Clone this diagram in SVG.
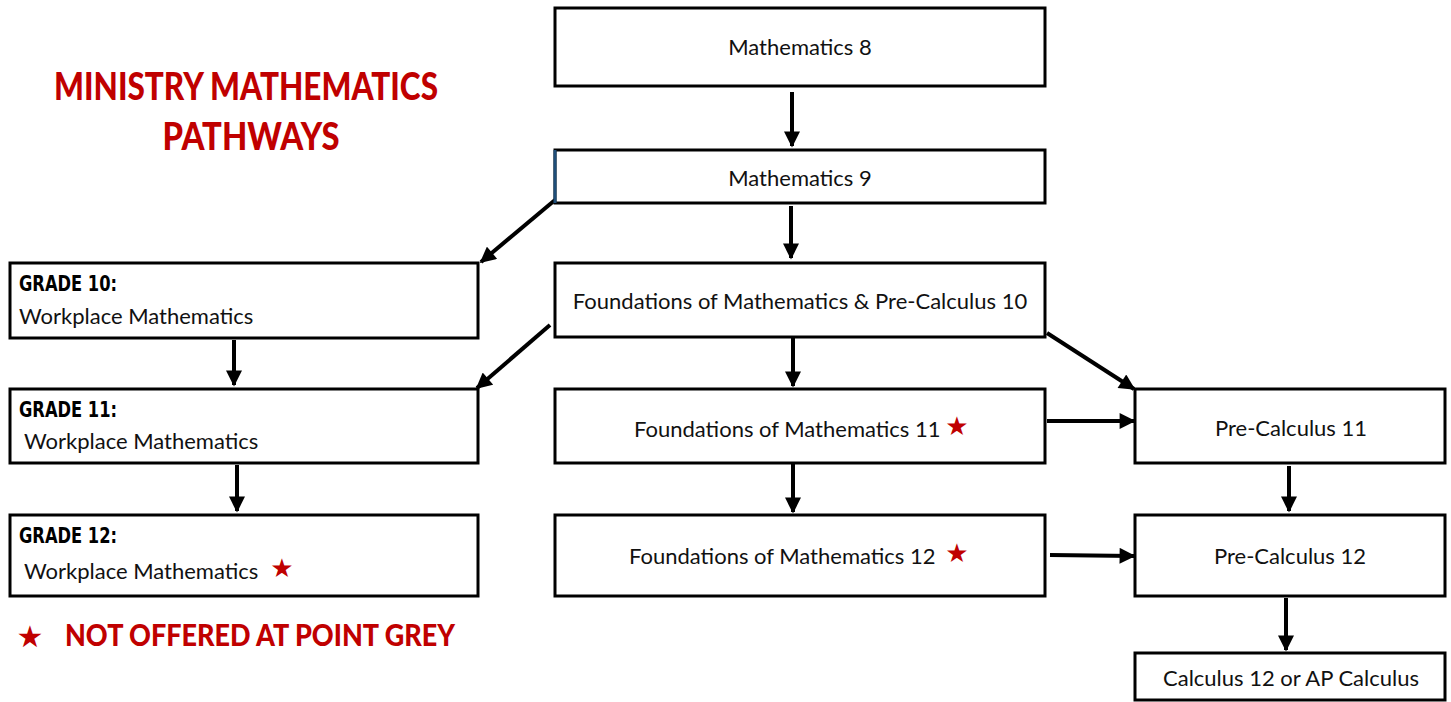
<svg xmlns="http://www.w3.org/2000/svg" width="1451" height="702" viewBox="0 0 1451 702">
<defs>
<style>
.box{fill:#fff;stroke:#000;stroke-width:3}
.t{font-family:Lato,"Open Sans",sans-serif;font-size:22px;fill:#111}
.c{text-anchor:middle}
.g{font-family:"Liberation Sans Narrow","DejaVu Sans Condensed",sans-serif;font-weight:bold;font-size:22px;fill:#000}
.star{font-family:"DejaVu Sans",sans-serif;fill:#c00000}
.red{font-family:Lato,"Open Sans",sans-serif;font-weight:900;fill:#c00000}
.ar{stroke:#000;stroke-width:4;fill:none;marker-end:url(#ah)}
</style>
<marker id="ah" viewBox="0 0 10 10" refX="9" refY="5" markerWidth="4.2" markerHeight="4" orient="auto" markerUnits="strokeWidth">
<path d="M0,0 L10,5 L0,10 z" fill="#000"/>
</marker>
</defs>
<rect width="1451" height="702" fill="#fff"/>
<g id="title">
<text class="red" x="246" y="100" font-size="38" text-anchor="middle" textLength="384" lengthAdjust="spacingAndGlyphs">MINISTRY MATHEMATICS</text>
<text class="red" x="251" y="150" font-size="38" text-anchor="middle" textLength="177" lengthAdjust="spacingAndGlyphs">PATHWAYS</text>
</g>
<g id="legend">
<text class="star" x="30" y="647" font-size="30" text-anchor="middle">★</text>
<text class="red" x="65" y="646" font-size="30" textLength="390" lengthAdjust="spacingAndGlyphs">NOT OFFERED AT POINT GREY</text>
</g>
<g id="connectors">
<line class="ar" x1="792" y1="92" x2="792" y2="146"/>
<line class="ar" x1="791" y1="206" x2="791" y2="258"/>
<line class="ar" x1="555" y1="200" x2="481" y2="262"/>
<line class="ar" x1="550" y1="325" x2="477" y2="388"/>
<line class="ar" x1="1047" y1="333" x2="1134" y2="389"/>
<line class="ar" x1="234" y1="340" x2="234" y2="385"/>
<line class="ar" x1="237" y1="465" x2="237" y2="511"/>
<line class="ar" x1="793" y1="338" x2="793" y2="386"/>
<line class="ar" x1="793" y1="464" x2="793" y2="512"/>
<line class="ar" x1="1047" y1="421" x2="1134" y2="421"/>
<line class="ar" x1="1050" y1="555" x2="1134" y2="556"/>
<line class="ar" x1="1289" y1="466" x2="1289" y2="511"/>
<line class="ar" x1="1286" y1="598" x2="1286" y2="650"/>
</g>
<g id="math8">
<rect class="box" x="555" y="8" width="490" height="78"/>
<text class="t c" x="800" y="55">Mathematics 8</text>
</g>
<g id="math9">
<rect class="box" x="555" y="150" width="490" height="53"/>
<line x1="555" y1="150" x2="555" y2="203" stroke="#1f4e79" stroke-width="3"/>
<text class="t c" x="800" y="186">Mathematics 9</text>
</g>
<g id="grade10">
<rect class="box" x="10" y="263" width="468" height="75"/>
<text class="g" x="19" y="291" textLength="98" lengthAdjust="spacingAndGlyphs">GRADE 10:</text>
<text class="t" x="19" y="324">Workplace Mathematics</text>
</g>
<g id="fpc10">
<rect class="box" x="555" y="263" width="490" height="74"/>
<text class="t c" x="800" y="309">Foundations of Mathematics &amp; Pre-Calculus 10</text>
</g>
<g id="grade11">
<rect class="box" x="10" y="389" width="468" height="74"/>
<text class="g" x="19" y="417" textLength="98" lengthAdjust="spacingAndGlyphs">GRADE 11:</text>
<text class="t" x="24" y="449">Workplace Mathematics</text>
</g>
<g id="found11">
<rect class="box" x="555" y="389" width="490" height="74"/>
<text class="t" x="634" y="437">Foundations of Mathematics 11</text>
<text class="star" x="957" y="435" font-size="26" text-anchor="middle">★</text>
</g>
<g id="pc11">
<rect class="box" x="1135" y="389" width="310" height="74"/>
<text class="t c" x="1291" y="436">Pre-Calculus 11</text>
</g>
<g id="grade12">
<rect class="box" x="10" y="515" width="468" height="81"/>
<text class="g" x="19" y="543" textLength="98" lengthAdjust="spacingAndGlyphs">GRADE 12:</text>
<text class="t" x="24" y="579">Workplace Mathematics</text>
<text class="star" x="282" y="577" font-size="26" text-anchor="middle">★</text>
</g>
<g id="found12">
<rect class="box" x="555" y="515" width="490" height="81"/>
<text class="t" x="629" y="564">Foundations of Mathematics 12</text>
<text class="star" x="957" y="562" font-size="26" text-anchor="middle">★</text>
</g>
<g id="pc12">
<rect class="box" x="1135" y="515" width="310" height="81"/>
<text class="t c" x="1290" y="564">Pre-Calculus 12</text>
</g>
<g id="calc">
<rect class="box" x="1135" y="653" width="310" height="47"/>
<text class="t c" x="1291" y="686">Calculus 12 or AP Calculus</text>
</g>
</svg>
